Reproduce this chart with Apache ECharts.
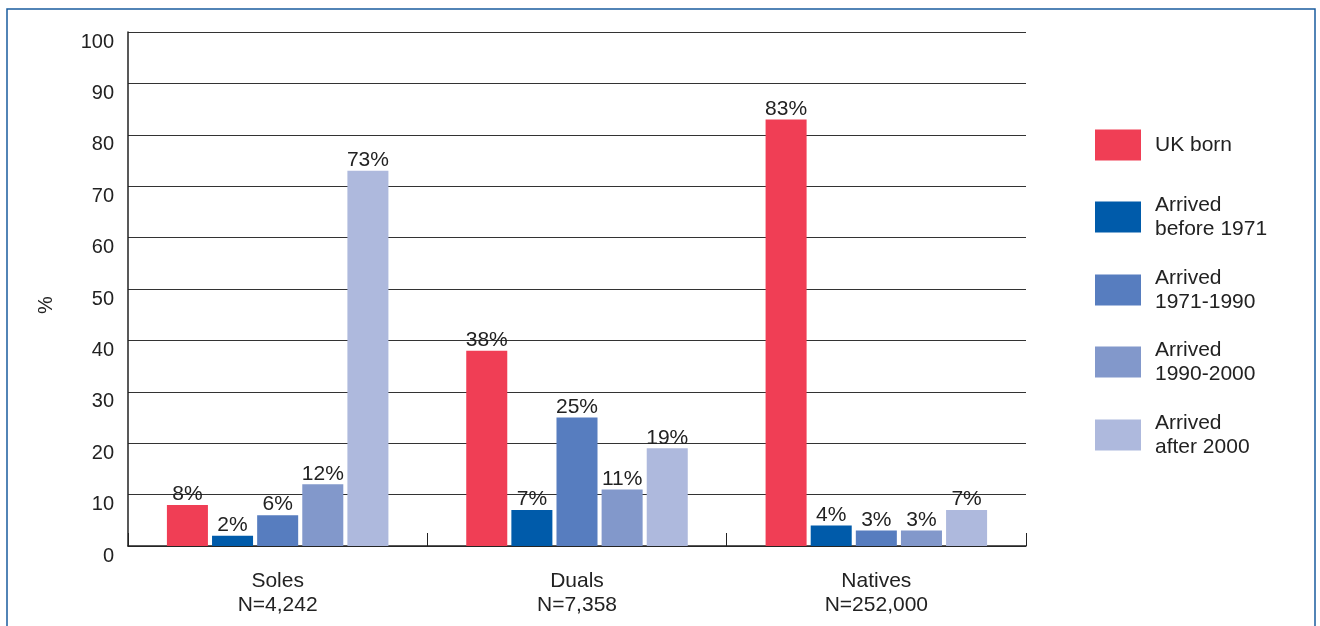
<!DOCTYPE html>
<html><head><meta charset="utf-8">
<script src="https://cdn.jsdelivr.net/npm/echarts@6/dist/echarts.min.js"></script>
<style>html,body{margin:0;padding:0;background:#fff}#c{width:1320px;height:626px}</style>
</head><body><div id="c"></div>
<script>
var categories = ['Soles\nN=4,242', 'Duals\nN=7,358', 'Natives\nN=252,000'];
var seriesNames = ['UK born', 'Arrived\nbefore 1971', 'Arrived\n1971-1990', 'Arrived\n1990-2000', 'Arrived\nafter 2000'];
var ukBorn = [8, 38, 83];
var before1971 = [2, 7, 4];
var from1971to1990 = [6, 25, 3];
var from1990to2000 = [12, 11, 3];
var after2000 = [73, 19, 7];
var yTicks = [0, 10, 20, 30, 40, 50, 60, 70, 80, 90, 100];

var values = [ukBorn, before1971, from1971to1990, from1990to2000, after2000];
var colors = ['#F03E55', '#005BAA', '#577DBF', '#8298CB', '#AEB9DD'];
var font = 'Liberation Sans, Arial, sans-serif';

var chart = echarts.init(document.getElementById('c'));
var legendCenters = [145, 217, 290, 362, 435];
var legends = seriesNames.map(function (n, i) {
  var twoLine = n.indexOf('\n') >= 0;
  var h = twoLine ? 48 : 31;
  return {
    data: [n], orient: 'vertical', left: 1095, top: legendCenters[i] - h / 2,
    itemWidth: 46, itemHeight: 31, itemGap: 0, padding: 0,
    icon: 'rect', selectedMode: false,
    textStyle: { fontFamily: font, fontSize: 21, color: '#222', lineHeight: 24, padding: [0, 0, 0, 9] }
  };
});

chart.setOption({
  animation: false,
  textStyle: { fontFamily: font },
  grid: { left: 128, right: 294, top: 32, bottom: 80 },
  legend: legends,
  graphic: [{
    type: 'rect', shape: { x: 7, y: 9, width: 1308, height: 700 },
    style: { fill: 'none', stroke: '#1A5C9E', lineWidth: 1.5 }, silent: true
  }],
  xAxis: {
    type: 'category', data: categories,
    axisLine: { lineStyle: { color: '#222', width: 1.5 } },
    axisTick: { show: true, inside: true, length: 13, lineStyle: { color: '#222' } },
    axisLabel: { fontFamily: font, fontSize: 21, color: '#222', lineHeight: 24, margin: 23 }
  },
  yAxis: {
    type: 'value', min: 0, max: 100, interval: 10,
    name: '%', nameLocation: 'middle', nameGap: 72, nameRotate: 90,
    nameTextStyle: { fontFamily: font, fontSize: 20, color: '#222', padding: [0, 32, 0, 0] },
    axisLine: { show: true, lineStyle: { color: '#222', width: 1.5 } },
    axisTick: { show: false },
    axisLabel: {
      fontFamily: font, fontSize: 20, color: '#222', margin: 14,
      verticalAlign: 'top',
      formatter: function (v) { return yTicks.indexOf(v) >= 0 ? String(v) : ''; }
    },
    splitLine: { lineStyle: { color: '#333', width: 1 } }
  },
  series: values.map(function (arr, i) {
    return {
      name: seriesNames[i], type: 'bar', data: arr,
      barCategoryGap: '26%', barGap: '10%',
      itemStyle: { color: colors[i] },
      label: {
        show: true, position: 'top', distance: 0,
        fontFamily: font, fontSize: 21, color: '#222',
        formatter: function (p) { return p.value + '%'; }
      }
    };
  })
});
</script></body></html>
